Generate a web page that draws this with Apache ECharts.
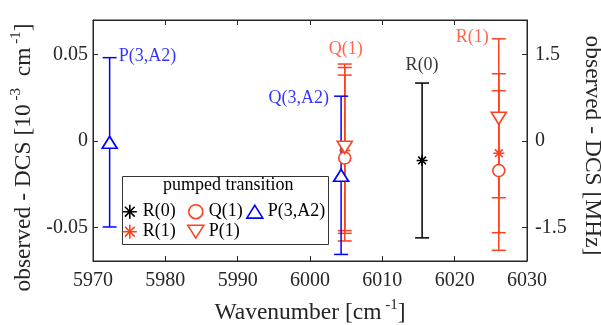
<!DOCTYPE html>
<html>
<head>
<meta charset="utf-8">
<script src="https://cdn.jsdelivr.net/npm/echarts@6/dist/echarts.min.js"></script>
<style>
html,body{margin:0;padding:0;background:#fff;}
#chart{width:601px;height:325px;}
</style>
</head>
<body>
<div id="chart"></div>
<script>
// ---- data (values in 10^-3 cm^-1) ----
const xTicks = [5970, 5980, 5990, 6000, 6010, 6020, 6030];
const yTicksLeft = [-0.05, 0, 0.05];
const yTicksRight = [-1.5, 0, 1.5];
const seriesNames = ['R(0)', 'R(1)', 'Q(1)', 'P(1)', 'P(3,A2)'];

// pumped R(0)
const r0X = [6015.5];
const r0Y = [-0.0112];
const r0Err = [0.0448];
// pumped R(1)
const r1X = [6004.8, 6026.1];
const r1Y = [-0.0054, -0.0070];
const r1Err = [0.0480, 0.0460];
// pumped Q(1)
const q1X = [6004.8, 6026.1];
const q1Y = [-0.0098, -0.0170];
const q1Err = [0.0480, 0.0462];
// pumped P(1)
const p1X = [6004.8, 6026.1];
const p1Y = [-0.0036, 0.0132];
const p1Err = [0.0482, 0.0460];
// pumped P(3,A2)
const p3X = [5972.3, 6004.3];
const p3Y = [-0.0007, -0.0198];
const p3Err = [0.0490, 0.0458];

// probed-transition annotations (anchored at the top of their error bar)
const annoText = ['P(3,A2)', 'Q(3,A2)', 'Q(1)', 'R(0)', 'R(1)'];
const annoX = [5972.3, 6004.3, 6004.8, 6015.5, 6026.1];
const annoY = [0.0483, 0.0260, 0.0446, 0.0336, 0.0592];

const yMin = -0.0694, yMax = 0.0701;
const MHZ_PER_1E3_CM = 29.9792458;

// ---- styling ----
const FONT = 'Liberation Serif';
const BLUE = '#0000ff', RED = '#ff4020', BLACK = '#000000';
const AX = '#262626';

const ASTER = 'path://M0,-1L0,1M-1,0L1,0M-0.7,-0.7L0.7,0.7M-0.7,0.7L0.7,-0.7';
const TRI_DOWN = 'path://M-1,-0.8L1,-0.8L0,0.8Z';
const TRI_UP = 'path://M-1,0.8L1,0.8L0,-0.8Z';

const groups = [
  {name: 'R(0)', x: r0X, y: r0Y, e: r0Err, color: BLACK, symbol: ASTER, size: [11, 11], fill: 'none'},
  {name: 'R(1)', x: r1X, y: r1Y, e: r1Err, color: RED, symbol: ASTER, size: [11, 11], fill: 'none'},
  {name: 'Q(1)', x: q1X, y: q1Y, e: q1Err, color: RED, symbol: 'circle', size: 12, fill: '#fff'},
  {name: 'P(1)', x: p1X, y: p1Y, e: p1Err, color: RED, symbol: TRI_DOWN, size: [15, 12], fill: '#fff'},
  {name: 'P(3,A2)', x: p3X, y: p3Y, e: p3Err, color: BLUE, symbol: TRI_UP, size: [15, 12], fill: '#fff'}
];

function errRender(color) {
  return function (params, api) {
    const x = api.value(0), lo = api.value(1), hi = api.value(2);
    const a = api.coord([x, hi]), b = api.coord([x, lo]);
    const hw = 7;
    const st = {stroke: color, lineWidth: 1.5};
    return {type: 'group', children: [
      {type: 'line', shape: {x1: a[0], y1: a[1], x2: b[0], y2: b[1]}, style: st},
      {type: 'line', shape: {x1: a[0] - hw, y1: a[1], x2: a[0] + hw, y2: a[1]}, style: st},
      {type: 'line', shape: {x1: b[0] - hw, y1: b[1], x2: b[0] + hw, y2: b[1]}, style: st}
    ]};
  };
}

const series = [];
groups.forEach(g => {
  series.push({
    type: 'custom', name: g.name + ' err', renderItem: errRender(g.color),
    data: g.x.map((x, i) => [x, g.y[i] - g.e[i], g.y[i] + g.e[i]]),
    encode: {x: 0, y: [1, 2]}, silent: true, z: 2
  });
  series.push({
    type: 'scatter', name: g.name, symbol: g.symbol, symbolSize: g.size,
    itemStyle: {color: g.fill, borderColor: g.color, borderWidth: 1.6, opacity: 1},
    data: g.x.map((x, i) => [x, g.y[i]]), z: 2
  });
});

const annoStyle = [
  {position: 'right', distance: 9, color: BLUE, offset: [0, -1]},
  {position: 'left', distance: 12, color: BLUE, offset: [0, 2]},
  {position: 'top', distance: 6, color: RED, offset: [1, 0]},
  {position: 'top', distance: 9, color: BLACK, offset: [0, 0]},
  {position: 'left', distance: 10, color: RED, offset: [0, -2]}
];
series.push({
  type: 'scatter', name: 'labels', symbolSize: 0, silent: true, z: 3,
  data: annoText.map((t, i) => ({
    value: [annoX[i], annoY[i]], name: t,
    label: Object.assign({show: true, formatter: t, fontFamily: FONT, fontSize: 18}, annoStyle[i])
  }))
});

// dummy series for right axis
series.push({type: 'line', yAxisIndex: 1, data: [], silent: true});

function legendCol(left, names) {
  return {
    left: left, top: 201.7, orient: 'vertical', padding: 0, itemGap: 0,
    itemWidth: 16, itemHeight: 14, selectedMode: false,
    data: names,
    itemStyle: {borderWidth: 1.6},
    textStyle: {fontFamily: FONT, fontSize: 18, color: '#000', lineHeight: 20, padding: [0, 0, 0, 0]}
  };
}

const supRich = {
  a: {fontFamily: FONT, fontSize: 23.5, lineHeight: 30, color: AX},
  s: {fontFamily: FONT, fontSize: 15, lineHeight: 15, color: AX, verticalAlign: 'top'}
};

const option = {
  animation: false,
  backgroundColor: '#fff',
  grid: {left: 93, right: 74, top: 20, bottom: 64, outerBoundsMode: 'none', containLabel: false,
    show: true, borderColor: AX, borderWidth: 1, backgroundColor: 'transparent'},
  xAxis: [{
    type: 'value', min: 5970, max: 6030, interval: 10,
    axisLine: {show: true, onZero: false, lineStyle: {color: AX}},
    axisTick: {show: true, inside: true, length: 5, lineStyle: {color: AX}},
    splitLine: {show: false},
    axisLabel: {fontFamily: FONT, fontSize: 20, color: AX, margin: 10,
      customValues: xTicks, formatter: v => String(v)},
    name: '{a|Wavenumber [cm}{s| -1}{a|]}', nameLocation: 'middle', nameGap: 37,
    nameTextStyle: {rich: supRich}
  }, {
    type: 'value', min: 5970, max: 6030, interval: 10, position: 'top',
    axisLine: {show: true, onZero: false, lineStyle: {color: AX}},
    axisTick: {show: true, inside: true, length: 5, lineStyle: {color: AX}},
    axisLabel: {show: false}, splitLine: {show: false}
  }],
  yAxis: [{
    type: 'value', min: yMin, max: yMax, position: 'left',
    axisLine: {show: true, onZero: false, lineStyle: {color: AX}},
    axisTick: {show: true, inside: true, length: 5, lineStyle: {color: AX}, customValues: yTicksLeft},
    splitLine: {show: false},
    axisLabel: {fontFamily: FONT, fontSize: 20, color: AX, margin: 5, customValues: yTicksLeft,
      formatter: v => (Math.abs(v) < 1e-9 ? '0' : String(v).replace('−', '-'))},
    name: '{a|observed - DCS [10}{s| -3}{a|  cm}{s| -1}{a|]}', nameLocation: 'middle', nameGap: 50, nameRotate: 90,
    nameTextStyle: {rich: supRich, padding: [0, 34, 0, 0]}
  }, {
    type: 'value', min: yMin * MHZ_PER_1E3_CM, max: yMax * MHZ_PER_1E3_CM, position: 'right',
    axisLine: {show: true, onZero: false, lineStyle: {color: AX}},
    axisTick: {show: true, inside: true, length: 5, lineStyle: {color: AX}, customValues: yTicksRight},
    splitLine: {show: false},
    axisLabel: {fontFamily: FONT, fontSize: 20, color: AX, margin: 8, customValues: yTicksRight,
      formatter: v => (Math.abs(v) < 1e-9 ? '0' : String(v))},
    name: 'observed - DCS [MHz]', nameLocation: 'middle', nameGap: 50, nameRotate: -90,
    nameTextStyle: {fontFamily: FONT, fontSize: 23.5, color: AX, lineHeight: 30, padding: [0, 0, 0, 10]}
  }],
  legend: [
    legendCol(120.3, [seriesNames[0], seriesNames[1]]),
    legendCol(187, [seriesNames[2], seriesNames[3]]),
    legendCol(246, [seriesNames[4]])
  ],
  graphic: [
    {type: 'rect', left: 122, top: 176, z: 50, shape: {width: 206, height: 68},
      style: {fill: '#fff', stroke: '#333', lineWidth: 1}},
    {type: 'text', left: 163, top: 176, z: 51,
      style: {text: 'pumped transition', font: '18px "Liberation Serif"', fill: '#000'}}
  ],
  series: series
};

const chart = echarts.init(document.getElementById('chart'), null, {renderer: 'canvas'});
option.legend.forEach(l => { l.z = 60; });
chart.setOption(option);
</script>
</body>
</html>
